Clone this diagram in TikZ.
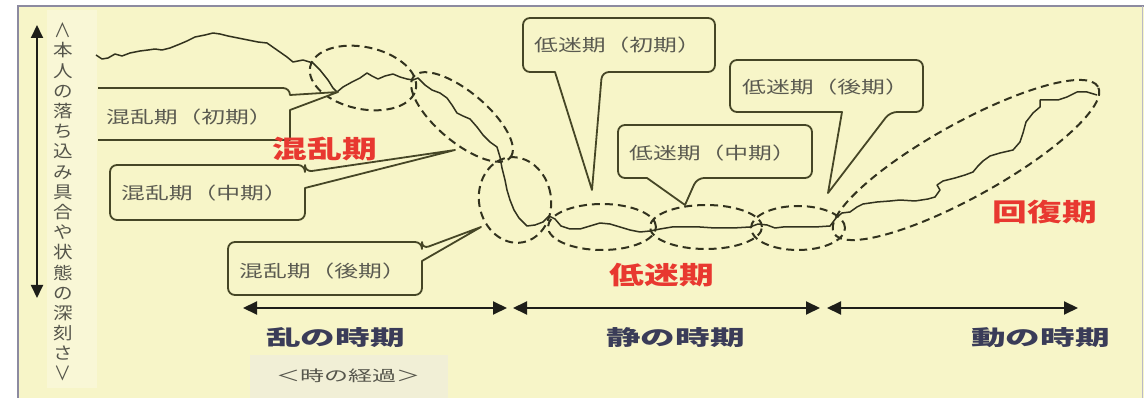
\documentclass[tikz,border=0pt]{standalone}
\usepackage{fontspec}
\usepackage{graphicx}
\usetikzlibrary{arrows.meta}
\newfontfamily\jpbox{Noto Sans CJK JP}[FakeStretch=1.4]
\newfontfamily\jpred{Noto Sans CJK JP}[FakeStretch=1.39]
\newfontfamily\jptime{Noto Sans CJK JP}[FakeStretch=1.65]
\newfontfamily\jpsmall{Noto Sans CJK JP}[FakeStretch=1.6]
\newfontfamily\jpvert{Noto Sans CJK JP}[FakeStretch=1.15]
\definecolor{bgy}{RGB}{247,245,200}
\definecolor{patchc}{RGB}{241,239,214}
\definecolor{colpatch}{RGB}{249,247,214}
\definecolor{framec}{RGB}{140,138,160}
\definecolor{boxline}{RGB}{70,70,38}
\definecolor{boxtext}{RGB}{90,90,80}
\definecolor{curvec}{RGB}{50,50,30}
\definecolor{redc}{RGB}{232,56,48}
\definecolor{navyc}{RGB}{58,60,88}
\definecolor{arrc}{RGB}{30,30,25}
\definecolor{vtext}{RGB}{85,85,75}
\begin{document}
\begin{tikzpicture}[x=1pt,y=-1pt,
  cbox/.style={draw=boxline, line width=1.8pt, fill=bgy, line join=round},
  btxt/.style={font=\jpbox\fontsize{17}{20}\selectfont, text=boxtext, inner sep=0pt, anchor=west},
  redlab/.style={font=\jpred\bfseries\fontsize{25}{28}\selectfont, text=redc, inner sep=0pt},
  timelab/.style={font=\jptime\bfseries\fontsize{21}{24}\selectfont, text=navyc, inner sep=0pt, anchor=west},
  dashell/.style={draw=curvec, line width=2pt, dash pattern=on 8pt off 5pt},
  wave/.style={draw=curvec, line width=1.5pt, line join=round},
  tarrow/.style={draw=arrc, line width=2pt, {Triangle[length=14pt,width=13pt]}-{Triangle[length=14pt,width=13pt]}},
  varrow/.style={draw=arrc, line width=1.8pt, {Triangle[length=13pt,width=12pt]}-{Triangle[length=13pt,width=12pt]}}
]
\useasboundingbox (0,0) rectangle (1144,398);
% background and frame
\fill[white] (0,0) rectangle (1144,398);
\fill[bgy] (18,6) rectangle (1144,398);
\fill[colpatch] (47,10) rectangle (97,388);
\fill[patchc] (250,355) rectangle (448,398);
\draw[framec, line width=1.2pt] (18,398) -- (18,6) -- (1144,6);
\draw[framec!60, line width=0.8pt] (1142,6) -- (1142,398);

% vertical axis arrow and label
\coordinate (vtop) at (37,25);
\coordinate (vbot) at (37,298);
\draw[varrow] (vtop) -- (vbot);
\node[font=\jpvert\fontsize{17}{20.2}\selectfont, text=vtext, align=center, inner sep=0pt] (vt) at (63,202)
 {\rotatebox[origin=c]{-90}{＜}\\本\\人\\の\\落\\ち\\込\\み\\具\\合\\や\\状\\態\\の\\深\\刻\\さ\\\rotatebox[origin=c]{-90}{＞}};

% dashed ellipses
\draw[dashell] (363,78) ellipse[x radius=54pt, y radius=31pt, rotate=-12];
\draw[dashell] (462,117) ellipse[x radius=63pt, y radius=25pt, rotate=-40];
\draw[dashell] (515,200) ellipse[x radius=36pt, y radius=43pt, rotate=10];
\draw[dashell] (602,227) ellipse[x radius=54pt, y radius=23pt];
\draw[dashell] (706,227) ellipse[x radius=56pt, y radius=22pt];
\draw[dashell] (798,228) ellipse[x radius=47pt, y radius=22pt];
\draw[dashell] (966,160) ellipse[x radius=151pt, y radius=37pt, rotate=29];

% wavy curve
\draw[wave] (96,55) -- (102,59) -- (108,58) -- (115,54) -- (122,56) -- (130,53) -- (140,51) -- (148,50)
 -- (155,49) -- (162,50) -- (170,48) -- (180,44) -- (187,41) -- (195,37) -- (205,35) -- (213,33)
 -- (220,34) -- (228,36) -- (238,38) -- (248,40) -- (258,42) -- (267,43) -- (277,50) -- (287,57)
 -- (293,62) -- (303,60) -- (313,63) -- (320,70) -- (328,80) -- (333,88) -- (337,92)
 -- (343,87) -- (352,82) -- (360,78) -- (367,73) -- (372,76) -- (378,79) -- (385,76) -- (393,74)
 -- (400,77) -- (407,79) -- (413,80) -- (418,78) -- (425,85) -- (432,90) -- (440,93) -- (447,98)
 -- (452,105) -- (457,113) -- (463,116) -- (470,119) -- (477,127) -- (483,135) -- (490,142)
 -- (497,147) -- (500,157) -- (502,168) -- (505,180) -- (507,190) -- (510,200) -- (514,210)
 -- (519,218) -- (527,226) -- (535,225) -- (543,222) -- (549,216) -- (555,219) -- (561,226)
 -- (570,229) -- (580,229) -- (590,226) -- (600,223) -- (610,224) -- (620,227) -- (630,230)
 -- (640,232) -- (650,231) -- (660,229) -- (672,227) -- (685,227) -- (700,227) -- (715,228)
 -- (733,228) -- (750,227) -- (758,224) -- (767,225) -- (775,228) -- (783,227) -- (800,227)
 -- (815,227) -- (830,226) -- (836,218) -- (842,213) -- (850,212) -- (857,207) -- (863,204)
 -- (877,202) -- (890,201) -- (900,200) -- (915,201) -- (928,199) -- (935,197) -- (940,190)
 -- (937,185) -- (943,181) -- (955,178) -- (965,175) -- (973,172) -- (978,166) -- (983,161)
 -- (990,156) -- (1000,153) -- (1013,150) -- (1020,142) -- (1023,133) -- (1026,122) -- (1033,113)
 -- (1040,107) -- (1040,100) -- (1050,100) -- (1058,100) -- (1067,97) -- (1077,92) -- (1087,92)
 -- (1097,95);

% callout pointer tips
\coordinate (p1) at (338,92);
\coordinate (p2) at (455,150);
\coordinate (p3) at (481,227);
\coordinate (p4) at (592,190);
\coordinate (p5) at (685,205);
\coordinate (p6) at (828,193);

% callout boxes
\draw[cbox] (98,140) -- (290,140) -- (290,110) [sharp corners] -- (p1) -- (290,95) [rounded corners=7pt] -- (290,88) -- (98,88);
\draw[cbox] (200,165) [rounded corners=7pt] -- (305,165) -- (305,172) [sharp corners] -- (p2) -- (305,188) [rounded corners=7pt] -- (305,220) -- (110,220) -- (110,165) -- cycle;
\draw[cbox] (320,242) [rounded corners=7pt] -- (422,242) -- (422,249) [sharp corners] -- (p3) -- (422,261) [rounded corners=7pt] -- (422,295) -- (228,295) -- (228,242) -- cycle;
\draw[cbox] (620,18) [rounded corners=7pt] -- (715,18) -- (715,72) -- (602,72) [sharp corners] -- (p4) -- (555,72) [rounded corners=7pt] -- (523,72) -- (523,18) -- cycle;
\draw[cbox] (715,125) [rounded corners=7pt] -- (812,125) -- (812,178) -- (697,178) [sharp corners] -- (p5) -- (647,178) [rounded corners=7pt] -- (618,178) -- (618,125) -- cycle;
\draw[cbox] (825,60) [rounded corners=7pt] -- (923,60) -- (923,112) -- (890,112) [sharp corners] -- (p6) -- (842,112) [rounded corners=7pt] -- (730,112) -- (730,60) -- cycle;

% box texts
\node[btxt] (b1) at (106,117) {混乱期（初期）};
\node[btxt] (b2) at (121,193) {混乱期（中期）};
\node[btxt] (b3) at (239,271) {混乱期（後期）};
\node[btxt] (b4) at (534,45) {低迷期（初期）};
\node[btxt] (b5) at (629,153) {低迷期（中期）};
\node[btxt] (b6) at (742,87) {低迷期（後期）};

% red phase labels
\node[redlab] (r1) at (325,149) {混乱期};
\node[redlab] (r2) at (662,275) {低迷期};
\node[redlab] (r3) at (1045,212) {回復期};

% time arrows
\coordinate (a1s) at (243,308);
\coordinate (a1e) at (507,308);
\coordinate (a2s) at (513,308);
\coordinate (a2e) at (820,308);
\coordinate (a3s) at (827,308);
\coordinate (a3e) at (1078,308);
\draw[tarrow] (a1s) -- (a1e);
\draw[tarrow] (a2s) -- (a2e);
\draw[tarrow] (a3s) -- (a3e);

\node[timelab] (t1) at (266,338) {乱の時期};
\node[timelab] (t2) at (606,338) {静の時期};
\node[timelab] (t3) at (971,338) {動の時期};
\node[font=\jpsmall\fontsize{15}{18}\selectfont, text=vtext, inner sep=0pt] (tl) at (348,376) {＜時の経過＞};
\end{tikzpicture}
\end{document}
